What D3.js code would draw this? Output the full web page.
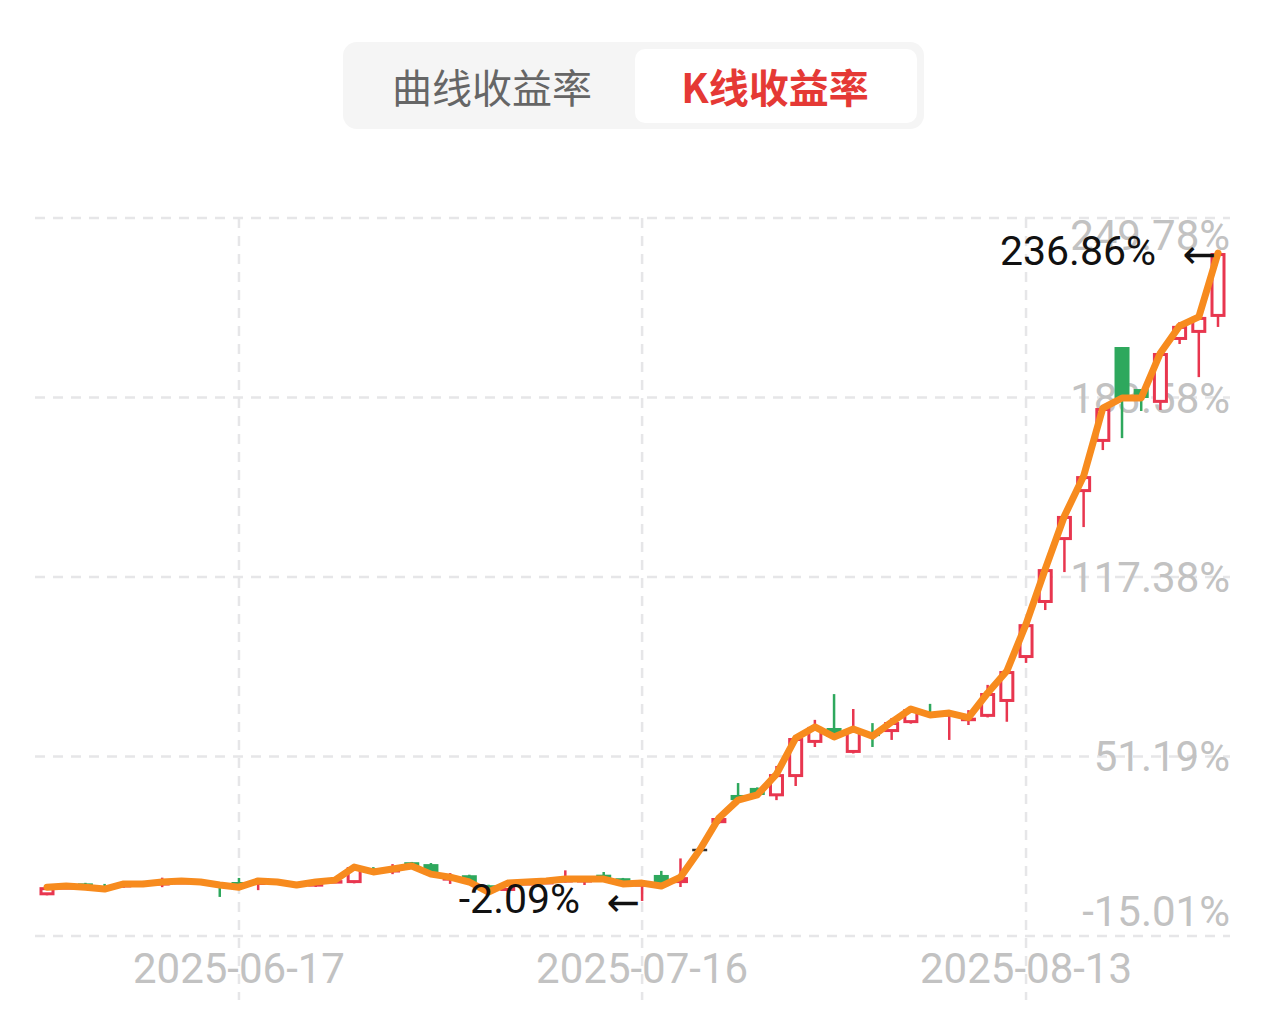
<!DOCTYPE html>
<html>
<head>
<meta charset="utf-8">
<script src="https://cdn.jsdelivr.net/npm/d3@7/dist/d3.min.js"></script>
<style>
  html, body { margin: 0; padding: 0; background: #ffffff; }
  svg { display: block; }
</style>
</head>
<body>
<svg id="chart" width="1262" height="1014"></svg>
<script>
// ---------- data ----------
const tabLabels = ["曲线收益率", "K线收益率"];

const dates = [
  "2025-06-03","2025-06-04","2025-06-05","2025-06-06","2025-06-09","2025-06-10","2025-06-11","2025-06-12","2025-06-13","2025-06-16",
  "2025-06-17","2025-06-18","2025-06-19","2025-06-20","2025-06-23","2025-06-24","2025-06-25","2025-06-26","2025-06-27","2025-06-30",
  "2025-07-01","2025-07-02","2025-07-03","2025-07-04","2025-07-07","2025-07-08","2025-07-09","2025-07-10","2025-07-11","2025-07-14",
  "2025-07-15","2025-07-16","2025-07-17","2025-07-18","2025-07-21","2025-07-22","2025-07-23","2025-07-24","2025-07-25","2025-07-28",
  "2025-07-29","2025-07-30","2025-07-31","2025-08-01","2025-08-04","2025-08-05","2025-08-06","2025-08-07","2025-08-08","2025-08-11",
  "2025-08-12","2025-08-13","2025-08-14","2025-08-15","2025-08-18","2025-08-19","2025-08-20","2025-08-21","2025-08-22","2025-08-25",
  "2025-08-26","2025-08-27"
];

const openVals = [
  0.0, 2.9, 4.4, 2.8, 2.9, 5.0, 4.2, 5.0, 5.3, 4.5,
  4.9, 3.8, 5.6, 4.6, 3.2, 5.0, 4.5, 10.0, 8.6, 12.2,
  11.5, 6.3, 7.4, 3.7, 1.6, 4.4, 5.0, 4.8, 5.6, 7.6,
  6.3, 4.0, 7.5, 4.5, 16.7, 26.6, 37.0, 39.6, 36.5, 43.6,
  56.2, 61.7, 52.5, 59.8, 60.2, 63.5, 67.2, 66.5, 64.5, 65.8,
  71.3, 87.5, 107.8, 131.0, 148.7, 167.2, 202.2, 186.7, 181.6, 204.8,
  207.4, 213.3
];
const closeVals = [
  3.0, 3.4, 3.0, 2.3, 4.2, 4.2, 4.9, 5.3, 4.9, 3.8,
  3.0, 5.3, 4.9, 3.8, 4.9, 5.6, 10.4, 8.6, 9.7, 10.8,
  7.8, 6.7, 4.9, 1.2, 4.5, 4.9, 5.3, 6.0, 6.0, 6.0,
  4.2, 4.5, 3.4, 6.7, 16.7, 28.5, 35.1, 37.0, 44.7, 58.0,
  62.1, 58.4, 61.3, 58.7, 63.9, 68.7, 66.5, 67.2, 65.5, 74.6,
  82.7, 100.0, 120.3, 139.9, 154.6, 179.7, 183.4, 183.4, 200.0, 210.0,
  213.3, 236.86
];
const highVals = [
  3.0, 3.6, 4.6, 4.2, 4.4, 5.3, 6.5, 5.6, 5.4, 4.8,
  6.4, 5.8, 5.8, 4.7, 5.0, 5.8, 10.8, 10.4, 11.5, 12.3,
  11.9, 8.2, 7.6, 3.9, 4.7, 5.1, 5.5, 9.2, 6.5, 8.6,
  6.4, 5.2, 9.0, 13.6, 17.0, 28.7, 41.4, 39.8, 47.7, 58.4,
  64.7, 74.2, 68.7, 63.5, 65.4, 69.1, 70.6, 68.3, 68.3, 77.6,
  83.1, 100.2, 120.5, 140.1, 155.0, 179.9, 202.2, 186.7, 200.2, 211.4,
  213.5, 236.86
];
const lowVals = [
  0.0, 2.6, 2.9, 2.2, 2.8, 4.0, 3.0, 4.8, 4.7, -0.6,
  2.8, 1.9, 4.7, 3.6, 3.1, 4.9, 4.4, 8.4, 7.8, 10.6,
  7.6, 4.2, 4.6, 0.9, 1.4, 4.2, 4.8, 4.7, 3.8, 5.9,
  4.0, -2.09, 3.2, 3.05, 16.4, 26.4, 34.4, 36.0, 35.1, 40.3,
  54.7, 57.3, 52.3, 54.7, 57.3, 63.3, 66.3, 57.3, 62.8, 65.6,
  64.0, 85.7, 105.2, 119.2, 135.8, 164.2, 168.6, 178.6, 179.0, 203.3,
  191.1, 209.6
];

const yTicks = [249.78, 183.58, 117.38, 51.19, -15.01];
const xTickDates = ["2025-06-17", "2025-07-16", "2025-08-13"];

// ---------- setup ----------
const svg = d3.select("#chart");
const plot = { left: 35, right: 1230, top: 218, bottom: 936 };

const colors = {
  up: "#e8364f",
  down: "#2ea85d",
  flat: "#333333",
  line: "#f78b1e",
  grid: "#e6e6e8",
  axisText: "#c2c2c2"
};

const x = d3.scalePoint().domain(dates).range([47, 1218]);
const y = d3.scaleLinear().domain([d3.min(yTicks), d3.max(yTicks)]).range([plot.bottom, plot.top]);

const numFont = "Roboto, 'Noto Sans', sans-serif";
const cjkFont = "'Noto Sans CJK SC', 'Noto Sans', sans-serif";

// ---------- tabs ----------
const tabs = svg.append("g");
tabs.append("rect").attr("x", 343).attr("y", 42).attr("width", 581).attr("height", 87)
  .attr("rx", 14).attr("fill", "#f5f5f5");
tabs.append("rect").attr("x", 635).attr("y", 49).attr("width", 282).attr("height", 74)
  .attr("rx", 10).attr("fill", "#ffffff");
tabs.append("text").attr("x", 492).attr("y", 86).attr("text-anchor", "middle")
  .attr("dominant-baseline", "central")
  .attr("font-family", cjkFont).attr("font-size", 40).attr("fill", "#666666")
  .text(tabLabels[0]);
tabs.append("text").attr("x", 775).attr("y", 86).attr("text-anchor", "middle")
  .attr("dominant-baseline", "central")
  .attr("font-family", cjkFont).attr("font-size", 40).attr("font-weight", "bold").attr("fill", "#e53935")
  .text(tabLabels[1]);

// ---------- grid ----------
const grid = svg.append("g");
grid.selectAll("line.h").data(yTicks).join("line")
  .attr("x1", plot.left).attr("x2", plot.right)
  .attr("y1", d => y(d)).attr("y2", d => y(d))
  .attr("stroke", colors.grid).attr("stroke-width", 2.5).attr("stroke-dasharray", "10,8");
grid.selectAll("line.v").data(xTickDates).join("line")
  .attr("x1", d => x(d)).attr("x2", d => x(d))
  .attr("y1", plot.top).attr("y2", 1000)
  .attr("stroke", colors.grid).attr("stroke-width", 2.5).attr("stroke-dasharray", "10,8");

// ---------- y labels ----------
const fmtPct = v => v.toFixed(2) + "%";
svg.append("g").selectAll("text").data(yTicks).join("text")
  .attr("x", plot.right)
  .attr("y", (d, i) => {
    const yy = y(d);
    if (i === 0) return yy + 32;
    if (i === yTicks.length - 1) return yy - 10;
    return yy + 15;
  })
  .attr("text-anchor", "end")
  .attr("font-family", numFont).attr("font-size", 42).attr("fill", colors.axisText)
  .text(d => fmtPct(d));

// ---------- x labels ----------
svg.append("g").selectAll("text").data(xTickDates).join("text")
  .attr("x", d => x(d)).attr("y", 983)
  .attr("text-anchor", "middle")
  .attr("font-family", numFont).attr("font-size", 42).attr("fill", colors.axisText)
  .text(d => d);

// ---------- candles ----------
const candles = dates.map((d, i) => ({
  date: d, o: openVals[i], c: closeVals[i], h: highVals[i], l: lowVals[i]
}));
const colorOf = k => k.c > k.o ? colors.up : (k.c < k.o ? colors.down : colors.flat);
const bodyW = 15;

const cg = svg.append("g");
cg.selectAll("line.wick").data(candles).join("line")
  .attr("x1", k => x(k.date)).attr("x2", k => x(k.date))
  .attr("y1", k => y(k.h)).attr("y2", k => y(k.l))
  .attr("stroke", colorOf).attr("stroke-width", 2.5);

cg.selectAll("rect.body").data(candles.filter(k => k.c !== k.o)).join("rect")
  .each(function(k) {
    const sel = d3.select(this);
    const top = y(Math.max(k.o, k.c));
    const bot = y(Math.min(k.o, k.c));
    if (k.c > k.o) {
      sel.attr("x", x(k.date) - bodyW / 2 + 1.5).attr("width", bodyW - 3)
        .attr("y", top + 1.5).attr("height", Math.max(bot - top - 3, 0.5))
        .attr("fill", "#ffffff").attr("stroke", colors.up).attr("stroke-width", 3);
    } else {
      sel.attr("x", x(k.date) - bodyW / 2).attr("width", bodyW)
        .attr("y", top).attr("height", Math.max(bot - top, 2))
        .attr("fill", colors.down);
    }
  });

cg.selectAll("line.doji").data(candles.filter(k => k.c === k.o)).join("line")
  .attr("x1", k => x(k.date) - bodyW / 2).attr("x2", k => x(k.date) + bodyW / 2)
  .attr("y1", k => y(k.c)).attr("y2", k => y(k.c))
  .attr("stroke", colors.flat).attr("stroke-width", 2.5);

// ---------- close line ----------
const line = d3.line()
  .x(k => x(k.date)).y(k => y(k.c))
  .curve(d3.curveLinear);
svg.append("path").datum(candles)
  .attr("d", line)
  .attr("fill", "none").attr("stroke", colors.line).attr("stroke-width", 7)
  .attr("stroke-linejoin", "round").attr("stroke-linecap", "round");

// ---------- max / min annotations ----------
const maxK = candles.reduce((a, b) => b.h > a.h ? b : a);
const minK = candles.reduce((a, b) => b.l < a.l ? b : a);
const ann = svg.append("g");
[[maxK, maxK.h], [minK, minK.l]].forEach(([k, v]) => {
  const cx = x(k.date), cy = y(v);
  ann.append("text").attr("x", cx - 2).attr("y", cy + 1)
    .attr("text-anchor", "end").attr("dominant-baseline", "central")
    .attr("font-family", "'DejaVu Sans', sans-serif").attr("font-size", 40).attr("fill", "#111")
    .text("←");
  ann.append("text").attr("x", cx - 62).attr("y", cy - 2)
    .attr("text-anchor", "end").attr("dominant-baseline", "central")
    .attr("font-family", numFont).attr("font-size", 41).attr("fill", "#111")
    .text(fmtPct(v));
});
</script>
</body>
</html>
